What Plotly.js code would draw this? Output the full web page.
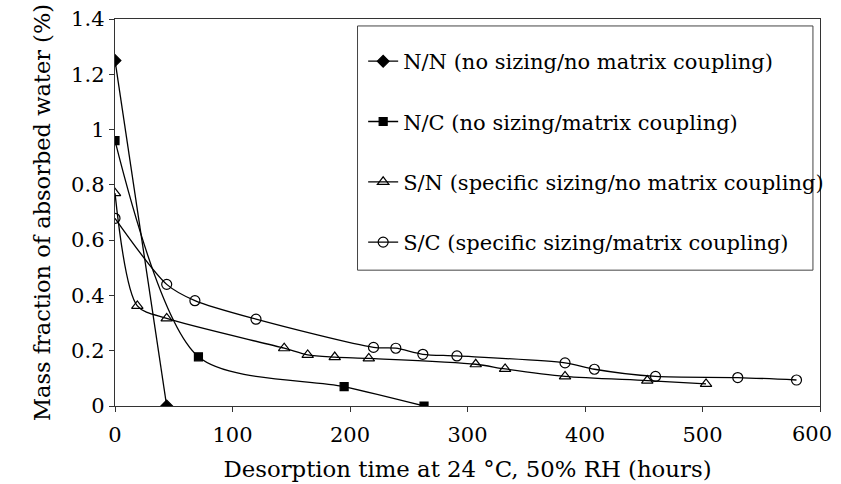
<!DOCTYPE html>
<html><head><meta charset="utf-8">
<script src="https://cdn.plot.ly/plotly-3.0.1.min.js"></script>
<style>html,body{margin:0;padding:0;background:#fff}#chart{width:841px;height:484px}</style>
</head><body><div id="chart"></div>
<script>
var nnX = [0, 44];
var nnY = [1.25, 0];
var ncX = [0, 71, 195, 263];
var ncY = [0.96, 0.178, 0.07, 0];
var snX = [0, 19, 44, 144, 164, 187, 216, 307, 332, 383, 453, 503];
var snY = [0.77, 0.362, 0.317, 0.209, 0.185, 0.177, 0.172, 0.151, 0.134, 0.107, 0.092, 0.08];
var scX = [0, 44, 68, 120, 220, 239, 262, 291, 383, 408, 460, 530, 580];
var scY = [0.679, 0.44, 0.381, 0.314, 0.212, 0.209, 0.187, 0.181, 0.156, 0.133, 0.107, 0.103, 0.094];
var names = ["N/N (no sizing/no matrix coupling)", "N/C (no sizing/matrix coupling)",
             "S/N (specific sizing/no matrix coupling)", "S/C (specific sizing/matrix coupling)"];
var xTicks = [0, 100, 200, 300, 400, 500, 600];
var xTickText = ["0", "100", "200", "300", "400", "500", ""];
var xLastTick = 600;
var xLastLabel = "600";
var yTicks = [0, 0.2, 0.4, 0.6, 0.8, 1, 1.2, 1.4];
var yTickText = ["0", "0.2", "0.4", "0.6", "0.8", "1", "1.2", "1.4"];

var FONT = "'DejaVu Serif', 'Liberation Serif', serif";
function tr(x, y, name, sym, size, shape, g) {
  return {x: x, y: y, name: name, type: "scatter", mode: "lines+markers", legendgroup: g,
    line: {color: "#000", width: 1.3, shape: shape, smoothing: 0.8},
    marker: {symbol: sym, size: size, color: "#000", line: {color: "#000", width: 1.2}}};
}
var data = [
  tr(nnX, nnY, names[0], "diamond", 9, "linear", "a"),
  tr(ncX, ncY, names[1], "square", 8, "spline", "b"),
  tr(snX, snY, names[2], "triangle-up-open", 10, "spline", "c"),
  tr(scX, scY, names[3], "circle-open", 10, "spline", "d")
];
var layout = {
  width: 841, height: 484,
  margin: {l: 115, r: 17, t: 19, b: 78},
  paper_bgcolor: "#fff", plot_bgcolor: "#fff",
  font: {family: FONT, size: 21, color: "#000"},
  showlegend: true,
  legend: {x: 0.352, y: 0.943, xanchor: "left", yanchor: "top", bgcolor: "rgba(0,0,0,0)",
    borderwidth: 0, font: {family: FONT, size: 21, color: "#000"},
    tracegroupgap: 30, traceorder: "grouped", itemwidth: 30},
  shapes: [{type: "rect", xref: "paper", yref: "paper", x0: 0.344, x1: 0.990, y0: 0.351, y1: 0.982,
    line: {color: "#444", width: 1}, fillcolor: "#fff", layer: "above"}],
  annotations: [{x: xLastTick, xref: "x", y: 0, yref: "paper", text: xLastLabel, showarrow: false,
    xanchor: "right", yanchor: "middle", xshift: 14, yshift: -28, font: {family: FONT, size: 21, color: "#000"}}],
  xaxis: {range: [0, 600], tickvals: xTicks, ticktext: xTickText, ticks: "outside", ticklen: 5, tickcolor: "#333",
    showline: true, linecolor: "#333", linewidth: 1.3, mirror: true, showgrid: false, zeroline: false,
    ticklabelstandoff: 4,
    title: {text: "Desorption time at 24 °C, 50% RH (hours)", font: {family: FONT, size: 22.8}, standoff: 15},
    tickfont: {family: FONT, size: 21}},
  yaxis: {range: [0, 1.4], tickvals: yTicks, ticktext: yTickText, ticks: "outside", ticklen: 5, tickcolor: "#333",
    showline: true, linecolor: "#333", linewidth: 1.3, mirror: true, showgrid: false, zeroline: false,
    title: {text: "Mass fraction of absorbed water (%)", font: {family: FONT, size: 22.5}, standoff: 14},
    tickfont: {family: FONT, size: 21}}
};
Plotly.newPlot("chart", data, layout, {displayModeBar: false, staticPlot: true});
</script></body></html>
